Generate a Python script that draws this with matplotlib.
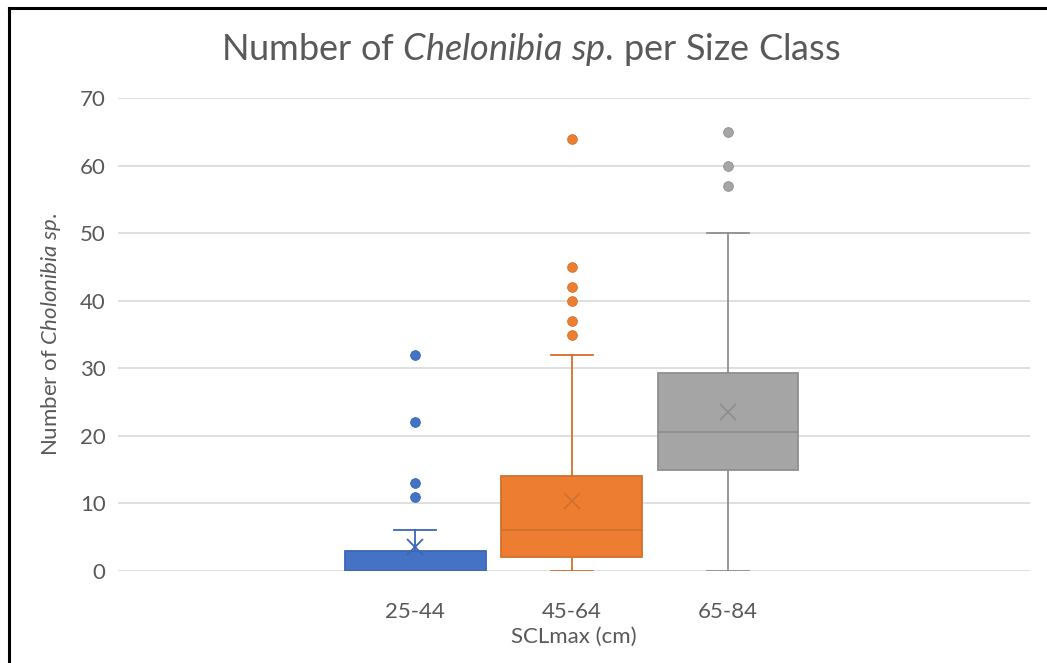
import matplotlib
matplotlib.use("Agg")
import matplotlib.pyplot as plt
from matplotlib.lines import Line2D

plt.rcParams['font.family'] = ['Lato', 'DejaVu Sans']
plt.rcParams['mathtext.fontset'] = 'custom'
plt.rcParams['mathtext.rm'] = 'Lato'
plt.rcParams['mathtext.it'] = 'Lato:italic'

# size classes and box statistics
classes = ["25-44", "45-64", "65-84"]
q1 = [0, 2, 15]
med = [0, 6, 20.6]
q3 = [3, 14, 29.3]
whis_lo = [0, 0, 0]
whis_hi = [6, 32, 50]
means = [3.6, 10.3, 23.5]
outliers = [
    [32, 22, 13, 11],
    [64, 45, 42, 40, 37, 35],
    [65, 60, 57],
]

face = ["#4472C4", "#ED7D31", "#A5A5A5"]
edge = ["#3A66B5", "#D4702B", "#8F8F8F"]
txt = "#595959"

fig = plt.figure(figsize=(10.47, 6.63), dpi=100)
ax = fig.add_axes([118 / 1047, 1 - 571 / 663, (1030 - 118) / 1047, (571 - 98) / 663])

for i in range(3):
    st = [dict(med=med[i], q1=q1[i], q3=q3[i], whislo=whis_lo[i],
               whishi=whis_hi[i], mean=means[i], fliers=outliers[i])]
    c = edge[i]
    ax.bxp(st, positions=[i + 1], widths=0.9, patch_artist=True,
           showmeans=True, capwidths=0.27,
           boxprops=dict(facecolor=face[i], edgecolor=c, linewidth=1.3),
           medianprops=dict(color=c, linewidth=1.3),
           whiskerprops=dict(color=c, linewidth=1.3),
           capprops=dict(color=c, linewidth=1.3),
           meanprops=dict(marker='x', markersize=12, markeredgecolor=c,
                          markeredgewidth=1.3, markerfacecolor='none'),
           flierprops=dict(marker='o', markersize=7, markerfacecolor=face[i],
                           markeredgecolor=c, markeredgewidth=0.6))

ax.set_xlim(-0.9, 4.93)
ax.set_ylim(0, 70)
ax.set_yticks(range(0, 71, 10))
ax.set_xticks([1, 2, 3])
ax.set_xticklabels(classes)
ax.yaxis.grid(True, color="#D9D9D9", linewidth=1.2)
ax.set_axisbelow(True)
for s in ax.spines.values():
    s.set_visible(False)
ax.tick_params(axis='both', length=0, labelsize=16, colors=txt)
ax.tick_params(axis='y', pad=9)
ax.tick_params(axis='x', pad=22)

ax.set_xlabel("SCLmax (cm)", fontsize=16, color=txt, labelpad=4)
ax.set_ylabel(r"Number of $\it{Cholonibia\ sp.}$", fontsize=16, color=txt, labelpad=12)

fig.text(531 / 1047, 1 - 50 / 663, r"Number of $\it{Chelonibia\ sp.}\,$per Size Class",
         ha='center', va='center', fontsize=26, color=txt)

# chart frame (left and top edges visible)
fig.add_artist(Line2D([9 / 1047, 9 / 1047], [0, 1 - 8 / 663], color='black', linewidth=2.2,
                      transform=fig.transFigure))
fig.add_artist(Line2D([9 / 1047, 1], [1 - 8 / 663, 1 - 8 / 663], color='black', linewidth=2.2,
                      transform=fig.transFigure))

fig.savefig("out.png", dpi=100)
